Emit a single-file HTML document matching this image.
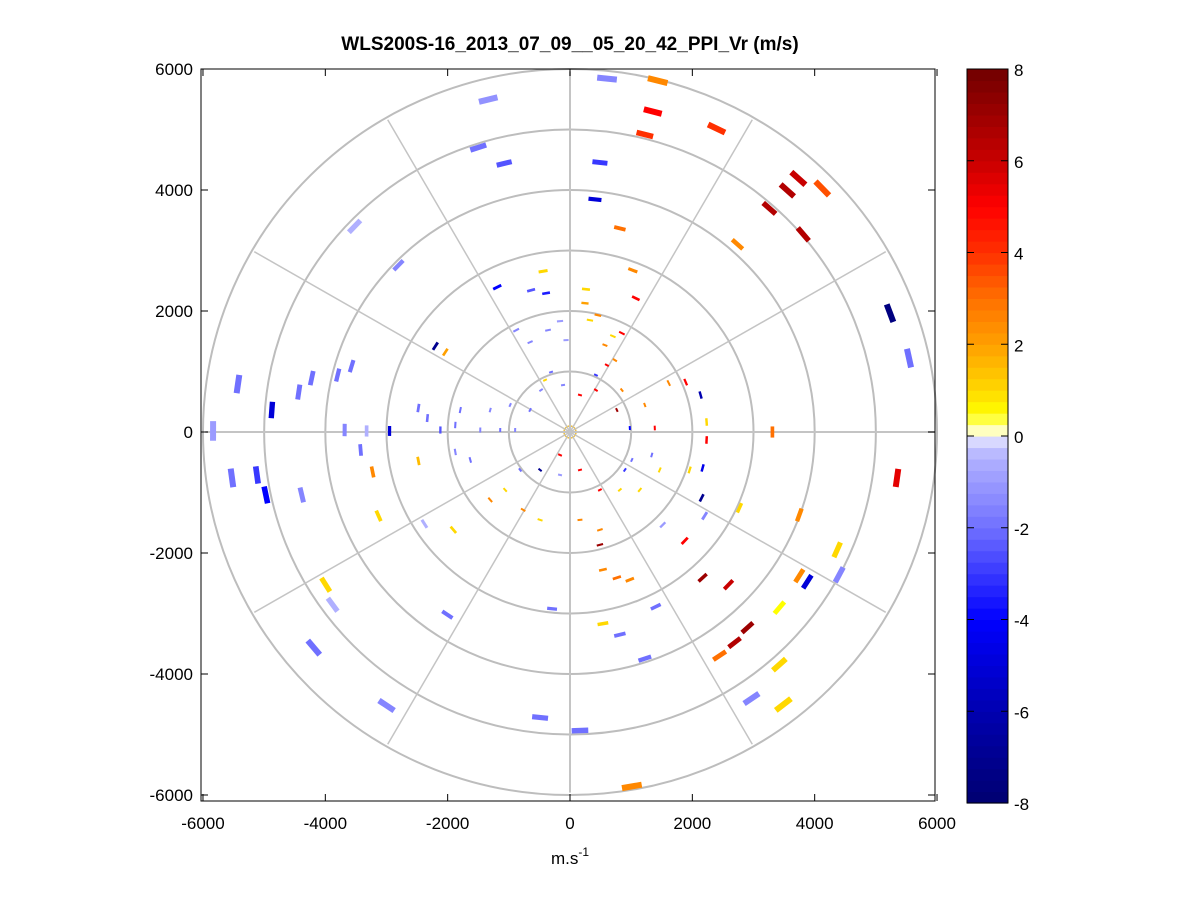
<!DOCTYPE html>
<html><head><meta charset="utf-8"><style>
html,body{margin:0;padding:0;background:#fff;}
svg{display:block;font-family:"Liberation Sans",sans-serif;}
</style></head><body>
<svg id="chart" width="1201" height="901" viewBox="0 0 1201 901">
<text x="570" y="50" text-anchor="middle" font-size="19" font-weight="bold">WLS200S-16_2013_07_09__05_20_42_PPI_Vr (m/s)</text>
<g id="grid"></g>
<g id="marks"></g>
<g id="axes"></g>
<g id="cbar"></g>
<text x="570" y="864" text-anchor="middle" font-size="17">m.s<tspan font-size="12" dy="-8">-1</tspan></text>
</svg>
<script>
const east=[605,1434,1353,1223,2396,-1337,-1500,-1076,489,408,815,3733,3553,4124,3260,3814,2738,1027,1076,-440,-636,-391,-1190,-3521,-2804,5232,5542,-2201,-2038,261,245,2135,2233,2233,2168,2152,3309,5346,1891,1614,
-5428,-5835,-4874,-4434,-4222,-3798,-3570,-5526,-5118,-4972,-4385,-2950,-3325,-3684,-3227,-3423,-2478,-3130,-2380,-1907,-3994,-3880,-4189,-2999,-2005,
-489,163,1011,-293,538,815,1223,1402,978,538,766,1875,2168,2592,2901,2690,2445,3423,2967,3488,3423,3749,3879,4401,4368,3749,2771,2201,1516,
-880,-652,-359,-163,-65,571,701,848,456,326,734,-310,-114,-473,424,603,424,848,766,1223,978,1386,1337,1011,897,815,489,163,-163,-489,-815,-1060,-1304,-766,-489,163,489,489,1141,-1467,-1141,-897,-1304,-1793,-1875,-1630,-978,-652,-408,1467,1956,163,-163,-2119,-1875,-2331,-2478];
const north=[5841,5808,5297,4917,5016,5495,4703,4439,4455,3845,3366,4191,3993,4026,3696,3267,3102,2673,2211,2657,2343,2294,2393,3399,2756,1964,1221,1419,1320,2360,2129,611,165,-132,-594,-1089,0,-759,825,809,
792,17,363,660,891,941,1089,-759,-710,-1040,-1040,17,17,33,-660,-297,-479,-1386,-1518,-1617,-2525,-2855,-3564,-4521,-3020,
-4719,-4934,-5858,-2921,-3168,-3350,-3746,-2888,-2442,-2277,-2409,-1799,-2409,-2525,-3234,-3482,-3696,-3845,-4406,-4505,-2904,-2376,-2475,-2360,-1947,-1370,-1254,-1386,-1535,
1683,1485,1683,1832,1518,1436,1584,1634,1931,1848,1188,990,776,693,941,1106,693,693,363,446,66,66,-380,-462,-627,-957,-957,-627,-710,-627,-627,-957,-1122,-1287,-1452,-1452,-1617,-1865,-957,33,33,33,363,363,-330,-462,446,363,858,-627,-627,611,-380,33,116,231,396];
const vr=[-1.5,2.5,5,4,4,-1.2,-2,-2.5,-3,-5,3,6,6.5,3.5,6.5,6.5,2.5,2.5,5,1,-2.5,-3.5,-4,-0.5,-1.5,-7.5,-2,-7,2,1,2,-6,1,5,-4.5,-7,3,5.5,5,2.5,
-2,-1,-5,-2,-2,-2,-2,-2,-3,-4,-1.5,-5,-0.5,-1.5,2.5,-2,1.5,1,-0.5,1,1,-0.5,-2,-1.5,-2,
-2,-2,2.5,-2,1,-2,-2,-2,2.5,2.5,3,5,7,6,7,6.5,3,1,-1.5,1,0.5,2.5,-5,-1.5,1,2.5,1,-1.5,-1,
-1.5,-1.5,-1.5,-1,-1,2.5,1,5,2.5,1,2.5,-2,-1.5,-1.5,-3,5,5,2.5,7,2.5,-4,5,-2,-2,-3,1,5,5,-1,-7,-2,1,2.5,2.5,1,2.5,2.5,7,1,-1.5,-2,-1.5,-1.5,-2,-1.5,-2,-1.5,-2,1,1,1,5,5,-2.5,-2,-2,-2];
const ringRadii=[1000,2000,3000,4000,5000,6000];
const xTicks=[-6000,-4000,-2000,0,2000,4000,6000];
const yTicks=[-6000,-4000,-2000,0,2000,4000,6000];
const cbTicks=[-8,-6,-4,-2,0,2,4,6,8];

const NS='http://www.w3.org/2000/svg';
const sx=e=>570+e*0.06117;
const sy=n=>432-n*0.0605;
const cy=v=>803-(v+8)/16*734;
function mk(tag,attrs,parent){const el=document.createElementNS(NS,tag);for(const k in attrs)el.setAttribute(k,attrs[k]);parent.appendChild(el);return el;}
const stops=[[-8,[0,0,112]],[-6,[0,0,176]],[-4,[0,0,255]],[-2,[112,112,255]],[-0.5,[176,176,255]],[-0.01,[216,216,255]],[0,[255,255,255]],[0.25,[255,255,128]],[0.5,[255,255,0]],[1,[255,216,0]],[2,[255,160,0]],[3,[255,112,0]],[4,[255,48,0]],[5,[255,0,0]],[6,[200,0,0]],[8,[112,0,0]]];
function cmap(v){v=Math.max(-8,Math.min(8,v));for(let i=1;i<stops.length;i++){if(v<=stops[i][0]){const a=stops[i-1],b=stops[i];const t=(v-a[0])/(b[0]-a[0]||1);const c=a[1].map((x,j)=>Math.round(x+(b[1][j]-x)*t));return 'rgb('+c.join(',')+')';}}return 'rgb(112,0,0)';}

const grid=document.getElementById('grid');
mk('rect',{x:201,y:69,width:734,height:732,fill:'#fff'},grid);
ringRadii.forEach(r=>{const c=mk('ellipse',{cx:sx(0),cy:sy(0),rx:r*0.06117,ry:r*0.0605,fill:'none',stroke:'#bdbdbd','stroke-width':2},grid);

});
mk('ellipse',{cx:sx(0),cy:sy(0),rx:6,ry:6,fill:'none',stroke:'#f0c040','stroke-width':1.5},grid);
for(let a=0;a<360;a+=30){const t=a*Math.PI/180;const l=mk('line',{x1:sx(0),y1:sy(0),x2:sx(5960*Math.sin(t)),y2:sy(5960*Math.cos(t)),stroke:'#c4c4c4','stroke-width':(a%90===0)?2:1.5},grid);

}

const marks=document.getElementById('marks');
for(let i=0;i<vr.length;i++){
 const e=east[i],n=north[i];const r=Math.hypot(e,n);
 const len=Math.max(4,r*0.055*0.06117);const th=Math.max(2,Math.min(6,r*0.0011));
 const ang=Math.atan2(-(n),e)*180/Math.PI+90;
 const x=sx(e),y=sy(n);
 const rc=mk('rect',{x:x-len/2,y:y-th/2,width:len,height:th,fill:cmap(vr[i]),transform:`rotate(${ang} ${x} ${y})`},marks);
 
 
}

const axes=document.getElementById('axes');
mk('rect',{x:201,y:69,width:734,height:732,fill:'none',stroke:'#000','stroke-width':1},axes);
xTicks.forEach(v=>{const x=sx(v);
 mk('line',{x1:x,y1:801,x2:x,y2:794,stroke:'#000'},axes);mk('line',{x1:x,y1:69,x2:x,y2:76,stroke:'#000'},axes);
 const t=mk('text',{x:x,y:829,'text-anchor':'middle','font-size':17},axes);t.textContent=v;
 
 });
yTicks.forEach(v=>{const y=sy(v);
 mk('line',{x1:201,y1:y,x2:208,y2:y,stroke:'#000'},axes);mk('line',{x1:935,y1:y,x2:928,y2:y,stroke:'#000'},axes);
 const t=mk('text',{x:193,y:y+6,'text-anchor':'end','font-size':17},axes);t.textContent=v;
 
 });

const cb=document.getElementById('cbar');
for(let k=0;k<64;k++){const v0=-8+k*0.25,v1=v0+0.25;const mid=(v0+v1)/2;
 const b=mk('rect',{x:967,y:cy(v1),width:41,height:cy(v0)-cy(v1)+0.6,fill:cmap(mid<0&&mid>-0.25?-0.01:mid)},cb);
 
 }
mk('rect',{x:967,y:69,width:41,height:734,fill:'none',stroke:'#000'},cb);
cbTicks.forEach(v=>{const y=cy(v);
 mk('line',{x1:967,y1:y,x2:974,y2:y,stroke:'#000'},cb);mk('line',{x1:1008,y1:y,x2:1001,y2:y,stroke:'#000'},cb);
 const t=mk('text',{x:1014,y:y+7,'font-size':17},cb);t.textContent=v;
 
 });
</script>
</body></html>
